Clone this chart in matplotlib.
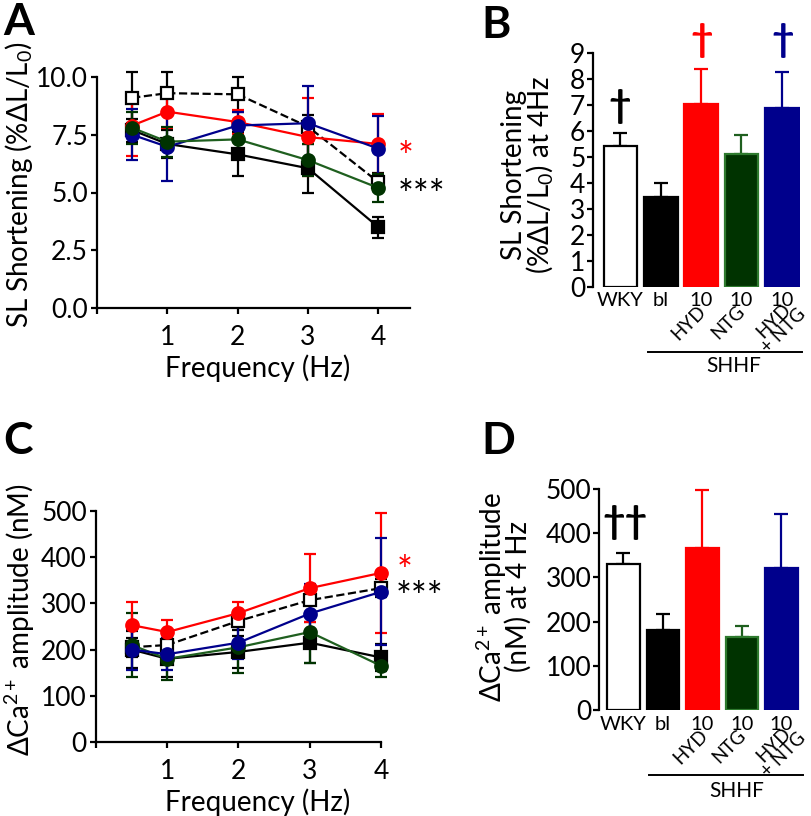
import matplotlib
matplotlib.use("Agg")
import matplotlib.pyplot as plt
import numpy as np

plt.rcParams['font.family'] = ['Lato', 'DejaVu Sans']
plt.rcParams['mathtext.fontset'] = 'custom'
plt.rcParams['mathtext.rm'] = 'Lato'
plt.rcParams['mathtext.it'] = 'Lato:italic'
plt.rcParams['mathtext.bf'] = 'Lato:bold'

# ---------------- data ----------------
freq = [0.5, 1, 2, 3, 4]

# Panel A: SL shortening (%dL/L0)
sl_wky = [9.1, 9.3, 9.25, 7.85, 5.45]
sl_wky_err = [1.1, 0.9, 0.75, 0.5, 0.4]
sl_bl = [7.7, 7.1, 6.65, 6.05, 3.5]
sl_bl_err = [0.5, 0.6, 0.95, 1.05, 0.45]
sl_hyd = [7.9, 8.5, 8.05, 7.4, 7.1]
sl_hyd_err = [1.3, 0.7, 0.5, 1.7, 1.3]
sl_ntg = [7.8, 7.2, 7.3, 6.4, 5.2]
sl_ntg_err = [0.7, 0.65, 0.5, 0.7, 0.6]
sl_hn = [7.5, 6.98, 7.9, 8.0, 6.9]
sl_hn_err = [1.1, 1.5, 0.6, 1.6, 1.4]

# Panel C: dCa2+ amplitude (nM)
ca_wky = [205, 210, 262, 307, 333]
ca_wky_err = [20, 25, 20, 30, 20]
ca_bl = [200, 180, 195, 215, 183]
ca_bl_err = [40, 40, 35, 45, 30]
ca_hyd = [253, 238, 279, 333, 366]
ca_hyd_err = [50, 26, 25, 74, 130]
ca_ntg = [210, 180, 205, 238, 165]
ca_ntg_err = [70, 45, 55, 68, 25]
ca_hn = [200, 190, 215, 278, 325]
ca_hn_err = [45, 35, 35, 65, 116]

# Panels B & D: bars at 4 Hz
bar_top_labels = ['WKY', 'bl', '10', '10', '10']
bar_rot_labels = ['', '', 'HYD', 'NTG', 'HYD\n+ NTG']
b_vals = [5.42, 3.46, 7.04, 5.12, 6.9]
b_err = [0.5, 0.55, 1.34, 0.73, 1.38]
d_vals = [330, 181, 366, 166, 322]
d_err = [25, 36, 132, 25, 121]

RED = '#FF0000'
BLUE = '#00008C'
GREEN_FACE = '#003300'
GREEN_LINE = '#1F5F1F'
BLACK = '#000000'

bar_faces = ['white', BLACK, RED, GREEN_FACE, BLUE]
bar_edges = [BLACK, BLACK, RED, '#2E7A2E', BLUE]
bar_errc = [BLACK, BLACK, RED, GREEN_LINE, BLUE]

W, H = 812, 816
fig = plt.figure(figsize=(W / 100, H / 100), dpi=100)


def rect(x0, y0, x1, y1):
    # pixel coords (top-left origin) -> figure fraction rect
    return [x0 / W, 1 - y1 / H, (x1 - x0) / W, (y1 - y0) / H]


def fx(x):
    return x / W


def fy(y):
    return 1 - y / H


TICKFS = 19
LABFS = 20
LW = 1.6


def style_axes(ax):
    for s in ['top', 'right']:
        ax.spines[s].set_visible(False)
    for s in ['left', 'bottom']:
        ax.spines[s].set_linewidth(LW)
    ax.tick_params(width=LW, length=4.5, labelsize=TICKFS, direction='out')


def line_panel(ax, series, ylim, yticks, yfmt):
    for y, e, col, lcol, mk, ms, mfc, ls in series:
        ax.errorbar(freq, y, yerr=e, color=lcol, ecolor=col, elinewidth=LW,
                    capsize=4, capthick=LW, linewidth=LW, linestyle=ls,
                    marker=mk, markersize=ms, markerfacecolor=mfc,
                    markeredgecolor=col, markeredgewidth=LW, clip_on=False,
                    zorder=3)
    ax.set_ylim(*ylim)
    ax.set_yticks(yticks)
    ax.set_yticklabels([yfmt(v) for v in yticks])
    ax.set_xticks([0, 1, 2, 3, 4])
    ax.set_xticklabels(['', '1', '2', '3', '4'])
    style_axes(ax)
    ax.tick_params(axis='y', pad=2)
    ax.tick_params(axis='x', pad=8)


# ---------------- Panel A ----------------
axA = fig.add_axes(rect(97, 77, 410, 308))
axA.set_xlim(0, 4.45)
seriesA = [
    (sl_wky, sl_wky_err, BLACK, BLACK, 's', 8.5, 'white', '--'),
    (sl_bl, sl_bl_err, BLACK, BLACK, 's', 8.5, BLACK, '-'),
    (sl_hyd, sl_hyd_err, RED, RED, 'o', 9, RED, '-'),
    (sl_hn, sl_hn_err, BLUE, BLUE, 'o', 9, BLUE, '-'),
    (sl_ntg, sl_ntg_err, GREEN_FACE, GREEN_LINE, 'o', 9, GREEN_FACE, '-'),
]
line_panel(axA, seriesA, (0, 10), [0, 2.5, 5, 7.5, 10], lambda v: f'{v:.1f}')
fig.text(fx(19), fy(185), 'SL Shortening (%ΔL/L$_0$)', rotation=90,
         ha='center', va='center', fontsize=LABFS)
fig.text(fx(258), fy(368), 'Frequency (Hz)', ha='center', va='center',
         fontsize=LABFS)
fig.text(fx(406), fy(159), '*', color=RED, ha='center', va='center',
         fontsize=27)
fig.text(fx(422), fy(197), '***', color=BLACK, ha='center', va='center',
         fontsize=27)

# ---------------- Panel C ----------------
axC = fig.add_axes(rect(96, 511, 381, 742))
axC.set_xlim(0, 4.0)
seriesC = [
    (ca_wky, ca_wky_err, BLACK, BLACK, 's', 8.5, 'white', '--'),
    (ca_bl, ca_bl_err, BLACK, BLACK, 's', 8.5, BLACK, '-'),
    (ca_ntg, ca_ntg_err, GREEN_FACE, GREEN_LINE, 'o', 9, GREEN_FACE, '-'),
    (ca_hyd, ca_hyd_err, RED, RED, 'o', 9, RED, '-'),
    (ca_hn, ca_hn_err, BLUE, BLUE, 'o', 9, BLUE, '-'),
]
line_panel(axC, seriesC, (0, 500), [0, 100, 200, 300, 400, 500],
           lambda v: f'{v:d}')
fig.text(fx(20), fy(620), 'ΔCa$^{2+}$ amplitude (nM)', rotation=90,
         ha='center', va='center', fontsize=LABFS)
fig.text(fx(258), fy(802), 'Frequency (Hz)', ha='center', va='center',
         fontsize=LABFS)
fig.text(fx(405), fy(573), '*', color=RED, ha='center', va='center',
         fontsize=27)
fig.text(fx(420), fy(599), '***', color=BLACK, ha='center', va='center',
         fontsize=27)


# ---------------- bar panels ----------------
def bar_panel(ax, vals, errs, ylim, yticks):
    x = np.arange(len(vals))
    ax.bar(x, vals, width=0.83, color=bar_faces, edgecolor=bar_edges,
           linewidth=LW, zorder=2)
    for xi, v, e, c in zip(x, vals, errs, bar_errc):
        ax.errorbar([xi], [v], yerr=[[0], [e]], ecolor=c, elinewidth=LW,
                    capsize=5, capthick=LW, fmt='none', clip_on=False,
                    zorder=1)
    ax.set_ylim(*ylim)
    ax.set_yticks(yticks)
    ax.set_xticks([])
    style_axes(ax)
    ax.spines['bottom'].set_visible(False)
    ax.tick_params(axis='y', pad=1, length=4.5)
    return x


# Panel B
axB = fig.add_axes(rect(593, 53, 800, 287))
axB.set_xlim(-0.68, 4.45)
xb = bar_panel(axB, b_vals, b_err, (0, 9), list(range(10)))
fig.text(fx(528), fy(175), 'SL Shortening\n(%ΔL/L$_0$) at 4Hz', rotation=90,
         ha='center', va='center', fontsize=LABFS, linespacing=0.85)

# Panel D
axD = fig.add_axes(rect(599, 489, 800, 710))
axD.set_xlim(-0.62, 4.47)
xd = bar_panel(axD, d_vals, d_err, (0, 500), [0, 100, 200, 300, 400, 500])
fig.text(fx(503), fy(597), 'ΔCa$^{2+}$ amplitude\n(nM) at 4 Hz', rotation=90,
         ha='center', va='center', fontsize=LABFS, linespacing=0.8)

rot_dx = [0, 0, -12, -13, -3]
rot_dy = [0, 0, 1, 0, 4]


def group_labels(ax, x, label_y, rot_y, line_y, shhf_x, shhf_y, x0, x1):
    for xi, t in zip(x, bar_top_labels):
        xp = ax.transData.transform((xi, 0))[0]
        fig.text(xp / W, fy(label_y), t, ha='center', va='center',
                 fontsize=14.5)
    for xi, t, dx, dy in zip(x, bar_rot_labels, rot_dx, rot_dy):
        if not t:
            continue
        xp = ax.transData.transform((xi, 0))[0]
        fig.text((xp + dx) / W, fy(rot_y + dy), t, ha='center', va='center',
                 rotation=45, rotation_mode='anchor', fontsize=13.5,
                 linespacing=0.82, multialignment='center')
    fig.add_artist(plt.Line2D([fx(x0), fx(x1)], [fy(line_y), fy(line_y)],
                              color='black', linewidth=1.4))
    fig.text(fx(shhf_x), fy(shhf_y), 'SHHF', ha='center',
             va='center', fontsize=15)


group_labels(axB, xb, 301, 322, 352, 734, 366, 648, 802)
group_labels(axD, xd, 724, 746, 775, 737, 791, 649, 803)

# daggers
fig.text(fx(620), fy(107), '†', color=BLACK, ha='center', va='center',
         fontsize=28, fontweight='bold')
fig.text(fx(702), fy(41), '†', color=RED, ha='center', va='center',
         fontsize=28, fontweight='bold')
fig.text(fx(783), fy(41), '†', color=BLUE, ha='center', va='center',
         fontsize=28, fontweight='bold')
fig.text(fx(625), fy(523), '††', color=BLACK, ha='center', va='center',
         fontsize=28, fontweight='bold')

# panel letters
for lbl, (x, y) in zip('ABCD', [(3, 2), (481, 5), (3, 421), (481, 421)]):
    fig.text(fx(x), fy(y), lbl, ha='left', va='top', fontsize=32,
             fontweight='bold')

fig.savefig('out.png', dpi=100)
